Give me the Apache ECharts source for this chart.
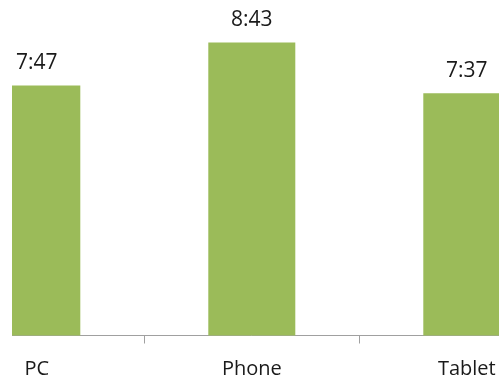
<!DOCTYPE html>
<html>
<head>
<meta charset="utf-8">
<script src="https://cdn.jsdelivr.net/npm/echarts@6/dist/echarts.min.js"></script>
<style>
  html, body { margin: 0; padding: 0; background: #fff; }
  #frame { position: absolute; left: 12px; top: 0; width: 487px; height: 380px; overflow: hidden; }
  #chart { position: absolute; left: -112px; top: 0; width: 700px; height: 380px; }
</style>
</head>
<body>
<div id="frame"><div id="chart"></div></div>
<script>
// Average time spent per device (minutes)
const devices = ['PC', 'Phone', 'Tablet'];
const minutes = [467, 523, 457];

function fmt(m) {
  const h = Math.floor(m / 60);
  const r = m % 60;
  return h + ':' + (r < 10 ? '0' : '') + r;
}

const chart = echarts.init(document.getElementById('chart'), null, { renderer: 'canvas' });
chart.setOption({
  animation: false,
  grid: { left: 29.3, right: 25.7, top: 0, bottom: 44.5, containLabel: false },
  xAxis: {
    type: 'category',
    data: devices,
    axisLine: { lineStyle: { color: '#a0a0a0', width: 1 } },
    axisTick: { show: true, length: 8, lineStyle: { color: '#a0a0a0' } },
    axisLabel: { fontFamily: 'Open Sans', fontSize: 20, color: '#1a1a1a', margin: 24 }
  },
  yAxis: {
    type: 'value',
    min: 142,
    max: 578.3,
    show: false,
    splitLine: { show: false }
  },
  series: [{
    type: 'bar',
    data: minutes,
    barWidth: 87,
    itemStyle: { color: '#9bbb59' },
    label: {
      show: true,
      position: 'top',
      distance: 12,
      fontFamily: 'Open Sans',
      fontSize: 21,
      color: '#1a1a1a',
      formatter: p => fmt(p.value)
    }
  }]
});
</script>
</body>
</html>
